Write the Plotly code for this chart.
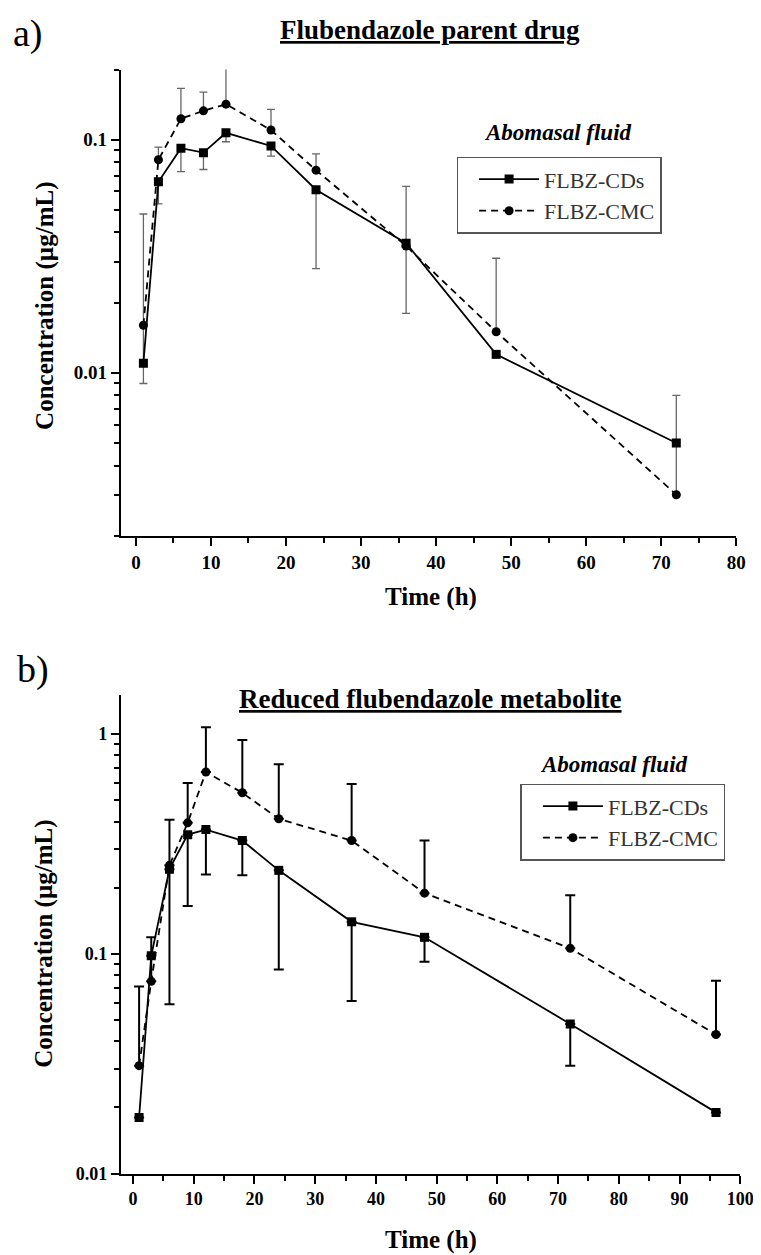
import math
import plotly.graph_objects as go

# ---------------- data ----------------
# Panel a) Flubendazole parent drug
time_a = [1, 3, 6, 9, 12, 18, 24, 36, 48, 72]
cds_a = [0.011, 0.066, 0.092, 0.088, 0.107, 0.094, 0.061, 0.036, 0.012, 0.005]
cds_a_plus = [0.037, 0, 0, 0, 0, 0, 0, 0.027, 0, 0.003]
cds_a_minus = [0.002, 0.013, 0.019, 0.0135, 0.009, 0.009, 0.033, 0.018, 0, 0.002]
cmc_a = [0.016, 0.082, 0.123, 0.133, 0.142, 0.110, 0.074, 0.035, 0.015, 0.003]
cmc_a_plus = [0, 0.011, 0.043, 0.027, 0.063, 0.025, 0.013, 0, 0.016, 0]
cmc_a_minus = [0, 0, 0, 0, 0, 0, 0, 0, 0, 0]

# Panel b) Reduced flubendazole metabolite
time_b = [1, 3, 6, 9, 12, 18, 24, 36, 48, 72, 96]
cds_b = [0.018, 0.098, 0.243, 0.349, 0.368, 0.328, 0.240, 0.140, 0.119, 0.048, 0.019]
cds_b_plus = [0, 0, 0, 0, 0, 0, 0, 0, 0, 0, 0]
cds_b_minus = [0, 0, 0.184, 0.184, 0.138, 0.100, 0.155, 0.079, 0.027, 0.017, 0]
cmc_b = [0.031, 0.075, 0.253, 0.395, 0.673, 0.541, 0.412, 0.328, 0.189, 0.106, 0.043]
cmc_b_plus = [0.040, 0.044, 0.155, 0.205, 0.403, 0.400, 0.318, 0.266, 0.139, 0.079, 0.0325]
cmc_b_minus = [0, 0, 0, 0, 0, 0, 0, 0, 0, 0, 0]

series_names = ["FLBZ-CDs", "FLBZ-CMC"]
title_a = "Flubendazole parent drug"
title_b = "Reduced flubendazole metabolite"
panel_labels = ["a)", "b)"]
legend_title = "Abomasal fluid"
x_title = "Time (h)"
y_title = "Concentration (\u00b5g/mL)"

# ---------------- figure ----------------
W, H = 761, 1255
SERIF = "Liberation Serif, Times New Roman, serif"


def px_x(p):
    return p / W


def px_y(p):
    return 1 - p / H


fig = go.Figure()


def add_series(x, y, plus, minus, name, dash, symbol, xa, ya, legend, ecolor, ethick, ewidth):
    fig.add_trace(go.Scatter(
        x=x, y=y, name=name, mode="lines+markers",
        xaxis=xa, yaxis=ya, legend=legend,
        line=dict(color="black", width=1.8, dash=dash),
        marker=dict(symbol=symbol, size=9, color="black"),
        error_y=dict(type="data", symmetric=False, array=plus, arrayminus=minus,
                     color=ecolor, thickness=ethick, width=ewidth),
    ))


add_series(time_a, cds_a, cds_a_plus, cds_a_minus, series_names[0], "solid", "square",
           "x", "y", "legend", "#666666", 1.3, 4)
add_series(time_a, cmc_a, cmc_a_plus, cmc_a_minus, series_names[1], "7px,5px", "circle",
           "x", "y", "legend", "#666666", 1.3, 4)
add_series(time_b, cds_b, cds_b_plus, cds_b_minus, series_names[0], "solid", "square",
           "x2", "y2", "legend2", "black", 2, 5)
add_series(time_b, cmc_b, cmc_b_plus, cmc_b_minus, series_names[1], "7px,5px", "circle",
           "x2", "y2", "legend2", "black", 2, 5)

tickfont = dict(family=SERIF, size=19, color="black", weight="bold")
tickfont_b = dict(family=SERIF, size=18, color="black", weight="bold")
axis_common = dict(showline=True, linecolor="black", linewidth=2, ticks="outside",
                   ticklen=8, tickwidth=2, tickcolor="black", showgrid=False,
                   zeroline=False, mirror=False)

minor_a = [d * 10 ** e for e in (-3, -2) for d in range(2, 10)] + [0.2]
minor_b = [d * 10 ** e for e in (-2, -1) for d in range(2, 10)]

legend_common = dict(xanchor="left", yanchor="top",
                     bordercolor="#555555", borderwidth=1.5, bgcolor="rgba(255,255,255,0)",
                     font=dict(family=SERIF, size=22, color="#333333"),
                     itemwidth=60, tracegroupgap=0, indentation=16)

fig.update_layout(
    width=W, height=H,
    margin=dict(l=0, r=0, t=0, b=0),
    paper_bgcolor="white", plot_bgcolor="white",
    font=dict(family=SERIF, color="black"),
    xaxis=dict(domain=[px_x(115), px_x(742)], anchor="y", range=[-2, 80],
               tickmode="linear", tick0=0, dtick=10, tickfont=tickfont,
               minor=dict(ticks="outside", ticklen=5, tickwidth=2, tickcolor="black",
                          tickmode="linear", tick0=0, dtick=5),
               **axis_common),
    yaxis=dict(domain=[px_y(532), px_y(62)], anchor="x", type="log",
               range=[math.log10(0.002), math.log10(0.2)], tickfont=tickfont,
               tickmode="array", tickvals=[0.01, 0.1], ticktext=["0.01", "0.1"],
               minor=dict(ticks="outside", ticklen=5, tickwidth=2, tickcolor="black",
                          tickmode="array", tickvals=minor_a),
               **axis_common),
    xaxis2=dict(domain=[px_x(115), px_x(746)], anchor="y2", range=[-2, 100],
                tickmode="linear", tick0=0, dtick=10, tickfont=tickfont_b,
                minor=dict(ticks="outside", ticklen=5, tickwidth=2, tickcolor="black",
                           tickmode="linear", tick0=0, dtick=5),
                **axis_common),
    yaxis2=dict(domain=[px_y(1175), px_y(693)], anchor="x2", type="log",
                range=[-2, math.log10(1.5)], tickfont=tickfont_b,
                tickmode="array", tickvals=[0.01, 0.1, 1], ticktext=["0.01", "0.1", "1"],
                minor=dict(ticks="outside", ticklen=5, tickwidth=2, tickcolor="black",
                           tickmode="array", tickvals=minor_b),
                **axis_common),
    legend=dict(x=px_x(457), y=px_y(150), **legend_common),
    legend2=dict(x=px_x(522), y=px_y(782), **legend_common),
    showlegend=True,
)

ann = []
# panel labels
ann.append(dict(text=panel_labels[0], x=px_x(3), y=px_y(26), xanchor="left", yanchor="middle",
                font=dict(family=SERIF, size=38, color="black")))
ann.append(dict(text=panel_labels[1], x=px_x(7), y=px_y(667), xanchor="left", yanchor="middle",
                font=dict(family=SERIF, size=38, color="black")))
# titles
ann.append(dict(text=title_a, x=px_x(430), y=px_y(22), xanchor="center", yanchor="middle",
                font=dict(family=SERIF, size=27, color="black", weight="bold", lineposition="under")))
ann.append(dict(text=title_b, x=px_x(430), y=px_y(697), xanchor="center", yanchor="middle",
                font=dict(family=SERIF, size=27, color="black", weight="bold", lineposition="under")))
# legend headings
ann.append(dict(text=legend_title, x=px_x(560), y=px_y(126), xanchor="center", yanchor="middle",
                font=dict(family=SERIF, size=23, color="black", weight="bold", style="italic")))
ann.append(dict(text=legend_title, x=px_x(617), y=px_y(763), xanchor="center", yanchor="middle",
                font=dict(family=SERIF, size=23, color="black", weight="bold", style="italic")))
# axis titles
for yc in (300, 943):
    ann.append(dict(text=y_title, x=px_x(37), y=px_y(yc), xanchor="center", yanchor="middle",
                    textangle=-90,
                    font=dict(family=SERIF, size=25, color="black", weight="bold")))
for yc in (594, 1242):
    ann.append(dict(text=x_title, x=px_x(431), y=px_y(yc), xanchor="center", yanchor="middle",
                    font=dict(family=SERIF, size=25, color="black", weight="bold")))

for a in ann:
    a.update(xref="paper", yref="paper", showarrow=False)
fig.update_layout(annotations=ann)

fig.write_html("out.html")
